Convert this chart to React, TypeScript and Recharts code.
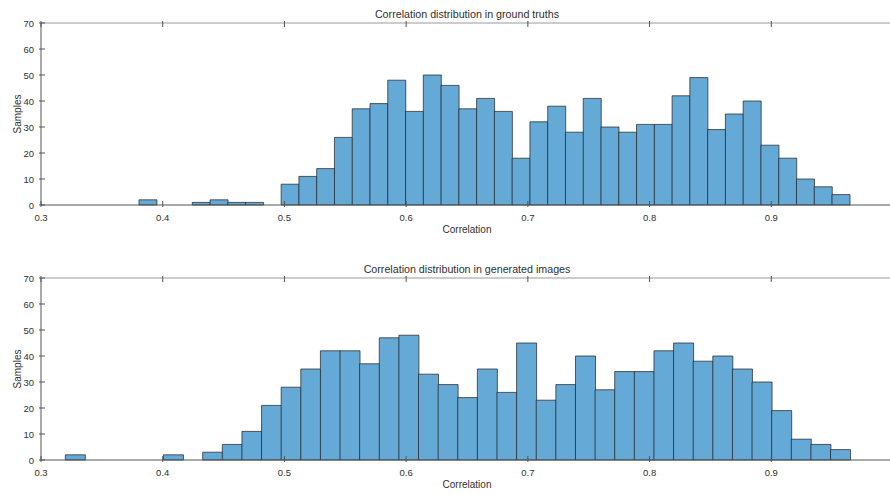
import React from "react";
import { ComposedChart, Bar, XAxis, YAxis } from "recharts";

// bin layout (left edge of the first bin, bin width)
const truthStart = 0.3805;
const truthBinWidth = 0.0146;
const truthCounts = [
  2, 0, 0, 1, 2, 1, 1, 0, 8, 11, 14, 26, 37, 39, 48, 36, 50, 46, 37, 41, 36,
  18, 32, 38, 28, 41, 30, 28, 31, 31, 42, 49, 29, 35, 40, 23, 18, 10, 7, 4,
];

const genStart = 0.32;
const genBinWidth = 0.01612;
const genCounts = [
  2, 0, 0, 0, 0, 2, 0, 3, 6, 11, 21, 28, 35, 42, 42, 37, 47, 48, 33, 29, 24,
  35, 26, 45, 23, 29, 40, 27, 34, 34, 42, 45, 38, 40, 35, 30, 19, 8, 6, 4,
];

const xTicks = [0.3, 0.4, 0.5, 0.6, 0.7, 0.8, 0.9];
const yTicks = [0, 10, 20, 30, 40, 50, 60, 70];

const FONT = "'Liberation Sans', Arial, sans-serif";
const TEXT = "#303030";
const AXIS = "#555";
const TICK_LEN = 6;

const BottomTick = (props: any) => {
  const { x, y, payload } = props;
  return (
    <g>
      <line x1={x} x2={x} y1={y} y2={y - TICK_LEN} stroke={AXIS} />
      <text x={x} y={y + 14} textAnchor="middle" fontSize={9.5} fill={TEXT} fontFamily={FONT}>
        {Number(payload.value).toFixed(1)}
      </text>
    </g>
  );
};

const TopTick = (props: any) => {
  const { x, y } = props;
  return <line x1={x} x2={x} y1={y} y2={y + TICK_LEN} stroke={AXIS} />;
};

const LeftTick = (props: any) => {
  const { x, y, payload } = props;
  return (
    <g>
      <line x1={x} x2={x + TICK_LEN} y1={y} y2={y} stroke={AXIS} />
      <text x={x - 5} y={y + 3.5} textAnchor="end" fontSize={9.5} fill={TEXT} fontFamily={FONT}>
        {payload.value}
      </text>
    </g>
  );
};

const RightTick = (props: any) => {
  const { x, y } = props;
  return <line x1={x} x2={x - TICK_LEN} y1={y} y2={y} stroke={AXIS} />;
};

interface PanelProps {
  title: string;
  start: number;
  binWidth: number;
  counts: number[];
  height: number;
}

function HistPanel({ title, start, binWidth, counts, height }: PanelProps) {
  const data = counts.map((count, i) => ({
    x: start + binWidth * (i + 0.5),
    count,
  }));

  return (
    <ComposedChart
      width={894}
      height={height}
      data={data}
      margin={{ top: 0, right: 0, bottom: 0, left: 0 }}
      barCategoryGap={0}
      barGap={0}
    >
      <XAxis
        dataKey="x"
        type="number"
        domain={[0.3, 1]}
        ticks={xTicks}
        interval={0}
        allowDataOverflow
        height={height - 205}
        tickSize={0}
        tickLine={false}
        tick={<BottomTick />}
        axisLine={{ stroke: AXIS }}
        label={{
          value: "Correlation",
          position: "insideTop",
          offset: 21,
          fontSize: 10,
          fill: TEXT,
          fontFamily: FONT,
        }}
      />
      <XAxis
        xAxisId="top"
        dataKey="x"
        type="number"
        orientation="top"
        domain={[0.3, 1]}
        ticks={xTicks}
        interval={0}
        allowDataOverflow
        height={23}
        tickSize={0}
        tickLine={false}
        tick={<TopTick />}
        axisLine={{ stroke: "#999" }}
        label={{
          value: title,
          position: "insideBottom",
          offset: 5,
          fontSize: 10.7,
          fill: TEXT,
          fontFamily: FONT,
        }}
      />
      <YAxis
        domain={[0, 70]}
        ticks={yTicks}
        interval={0}
        width={41}
        tickSize={0}
        tickLine={false}
        tick={<LeftTick />}
        axisLine={{ stroke: AXIS }}
        label={{
          value: "Samples",
          angle: -90,
          position: "insideLeft",
          offset: 17,
          fontSize: 10,
          fill: TEXT,
          fontFamily: FONT,
          style: { textAnchor: "middle" },
        }}
      />
      <YAxis
        yAxisId="right"
        orientation="right"
        domain={[0, 70]}
        ticks={yTicks}
        interval={0}
        width={1}
        tickSize={0}
        tickLine={false}
        tick={<RightTick />}
        axisLine={{ stroke: "#999" }}
      />
      <Bar
        dataKey="count"
        fill="#65a9d7"
        stroke="#1e1e1e"
        strokeWidth={0.7}
        isAnimationActive={false}
      />
    </ComposedChart>
  );
}

export default function App() {
  return (
    <div
      style={{
        position: "absolute",
        left: 0,
        top: 0,
        width: 890,
        height: 494,
        overflow: "hidden",
        background: "#fff",
        fontFamily: FONT,
      }}
    >
      <div style={{ position: "absolute", left: 0, top: 0 }}>
        <HistPanel
          title="Correlation distribution in ground truths"
          start={truthStart}
          binWidth={truthBinWidth}
          counts={truthCounts}
          height={247}
        />
      </div>
      <div style={{ position: "absolute", left: 0, top: 255 }}>
        <HistPanel
          title="Correlation distribution in generated images"
          start={genStart}
          binWidth={genBinWidth}
          counts={genCounts}
          height={239}
        />
      </div>
    </div>
  );
}
